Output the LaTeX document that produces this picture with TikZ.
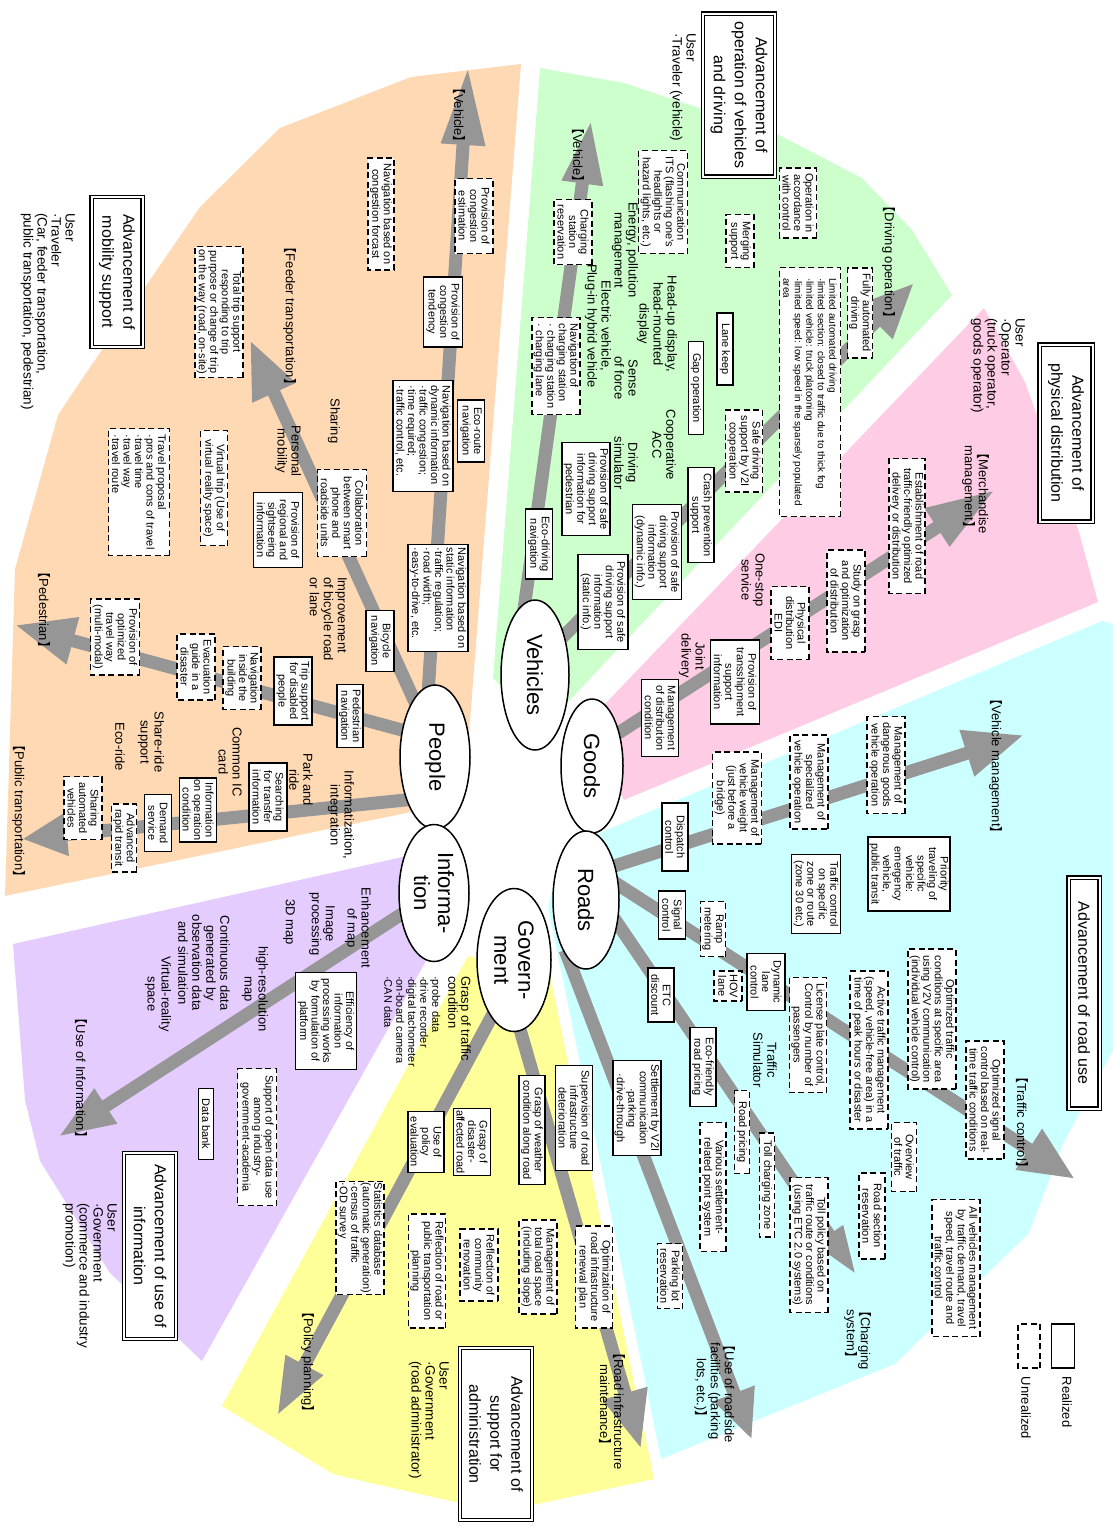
\documentclass[tikz,border=0pt]{standalone}
\usepackage{fontspec}
\setmainfont{Liberation Sans}
\newfontfamily\cjk{Noto Sans CJK SC}
\usetikzlibrary{shapes.geometric,arrows.meta}

\definecolor{mobilitybg}{RGB}{255,217,179}
\definecolor{vehiclebg}{RGB}{204,255,204}
\definecolor{goodsbg}{RGB}{255,204,229}
\definecolor{roadbg}{RGB}{204,255,255}
\definecolor{govbg}{RGB}{255,255,153}
\definecolor{infobg}{RGB}{229,204,255}
\definecolor{flowgray}{RGB}{150,150,150}

\newcommand\lbr{{\cjk 【}}
\newcommand\rbr{{\cjk 】}}
\newcommand\ctrln[1]{\null\hfill#1\hfill\null}
\newcommand\boxfont{\fontsize{11}{11.5}\selectfont}
\newcommand\notefont{\fontsize{13}{14}\selectfont}

\pgfdeclarelayer{sectors}
\pgfdeclarelayer{flows}
\pgfsetlayers{sectors,flows,main}

\begin{document}
\begin{tikzpicture}[
    x=1pt, y=-1pt,
    sz/.style 2 args={minimum width=#1pt, minimum height=#2pt},
    real/.style={rectangle, draw, line width=1.4pt, fill=white, rotate=-90, align=center, inner sep=1.5pt, font=\boxfont},
    plan/.style={real, dash pattern=on 6pt off 3.5pt, line width=1.7pt},
    theme/.style={rectangle, draw, double, double distance=2pt, line width=1.3pt, fill=white, rotate=-90, align=center, font=\fontsize{16}{21}\selectfont},
    hub/.style={ellipse, draw, line width=1.5pt, fill=white, rotate=-90, align=center, inner sep=0pt, font=\fontsize{22}{24}\selectfont},
    note/.style={rotate=-90, align=center, inner sep=0pt, font=\notefont},
    user/.style={note, align=left, anchor=north west, font=\fontsize{13.5}{14}\selectfont},
    flow/.style={draw=flowgray, line width=13pt, -{Triangle[length=58pt,width=42pt]}}
]
\useasboundingbox (0,0) rectangle (1113,1526);

% Central hubs
\node[hub, sz={144}{70}] (people) at (435,757) {People};
\node[hub, sz={150}{68}] (vehicles) at (535,675) {Vehicles};
\node[hub, sz={134}{62}] (goods) at (592,766) {Goods};
\node[hub, sz={138}{66}] (roads) at (586,900) {Roads};
\node[hub, sz={137}{70}] (information) at (434,893) {Informa-\\tion};
\node[hub, sz={143}{74}] (government) at (514,960) {Govern-\\ment};

% Theme titles and users
\node[theme, sz={150}{51}] (mobility) at (117,272) {Advancement of\\mobility support};
\node[theme, sz={163}{72}] (driving) at (739,95) {Advancement of\\operation of vehicles\\and driving};
\node[theme, sz={177}{53}] (distribution) at (1066,433) {Advancement of\\physical distribution};
\node[theme, sz={231}{31}] (roaduse) at (1084,993) {Advancement of road use};
\node[theme, sz={172}{72}] (administration) at (496,1434) {Advancement of\\support for\\administration};
\node[theme, sz={186}{52}] (infouse) at (150,1246) {Advancement of use of\\information};

\node[user] (userMobility) at (75,213) {User\\·Traveler\\(Car, feeder transportation,\\public transportation, pedestrian)};
\node[user] (userDriving) at (696,33) {User\\·Traveler (vehicle)};
\node[user] (userGoods) at (1025,318) {User\\·Operator\\(truck operator,\\goods operator)};
\node[user] (userAdmin) at (449,1361) {User\\·Government\\(road administrator)};
\node[user] (userInfo) at (117,1203) {User\\·Government\\(commerce and industry\\promotion)};

% Mobility support (people)
\node[plan, sz={112}{26}] (navForecast) at (381,214) {Navigation based on\\congestion forcast};
\node[plan, sz={75}{38}] (congEstim) at (474,216) {Provision of\\congestion\\estimation};
\node[real, sz={70}{39}] (congTend) at (443,312) {Provision of\\congestion\\tendency};
\node[plan, sz={131}{48}] (totalTrip) at (219,312) {Total trip support\\responding to trip\\purpose or change of trip\\on the way (road, on-site)};
\node[real, sz={111}{60}, align=left] (navDynamic) at (423,436) {Navigation based on\\dynamic information\\·traffic congestion;\\·time required;\\·traffic control, etc.};
\node[real, sz={62}{27}] (ecoRoute) at (471,431) {Eco-route\\navigation};
\node[plan, sz={87}{49}] (collab) at (342,513) {Collaboration\\between smart\\phone and\\roadside units};
\node[real, sz={75}{49}] (regional) at (278,530) {Provision of\\regional and\\sightseeing\\information};
\node[plan, sz={115}{27}] (virtualTrip) at (214,488) {Virtual trip (Use of\\virtual reality space)};
\node[plan, sz={127}{61}, align=left] (travelProp) at (139,492) {Travel proposal\\·pros and cons of travel\\·travel time\\·travel way\\·travel route};
\node[real, sz={107}{60}, align=left] (navStatic) at (438,598) {Navigation based on\\static information\\·traffic regulation;\\·road width;\\·easy-to-drive, etc.};
\node[real, sz={61}{28}] (bicycleNav) at (380,641) {Bicycle\\navigation};
\node[plan, sz={76}{49}] (optTravel) at (115,637) {Provision of\\optimized\\travel way\\(multi-modal)};
\node[plan, sz={66}{38}] (evacuation) at (196,667) {Evacuation\\guide in a\\disaster};
\node[plan, sz={63}{38}] (navBuilding) at (242,678) {Navigation\\inside the\\building};
\node[real, sz={68}{38}] (tripDisabled) at (293,691) {Trip support\\for disabled\\people};
\node[real, sz={63}{26}] (pedNav) at (350,716) {Pedestrian\\navigation};
\node[real, sz={68}{38}] (transfer) at (268,797) {Searching\\for transfer\\information};
\node[real, sz={62}{37}] (operation) at (198,810) {Information\\on operation\\condition};
\node[real, sz={57}{27}] (demand) at (158,823) {Demand\\service};
\node[plan, sz={68}{25}] (brt) at (124,838) {Advanced\\rapid transit};
\node[plan, sz={63}{38}] (sharedAV) at (83,808) {Sharing\\automated\\vehicles};

\node[note] (lblFeeder) at (290,316) {\lbr Feeder transportation\rbr};
\node[note] (lblPplVehicle) at (459,115) {\lbr Vehicle\rbr};
\node[note] (sharing) at (334,421) {Sharing};
\node[note] (personal) at (288,451) {Personal\\mobility};
\node[note, align=left, anchor=north west] (bicycleRoad) at (347,577) {Improvement\\of bicycle road\\or lane};
\node[note] (lblPedestrian) at (44,610) {\lbr Pedestrian\rbr};
\node[note] (shareRide) at (151,742) {Share-ride\\support};
\node[note] (ecoRide) at (120,747) {Eco-ride};
\node[note] (icCard) at (230,762) {Common IC\\card};
\node[note] (parkRide) at (301,780) {Park and\\ride};
\node[note] (integration) at (341,815) {Informatization,\\integration};
\node[note] (lblPublic) at (19,811) {\lbr Public transportation\rbr};

% Operation of vehicles and driving
\node[plan, sz={65}{38}] (chargeRes) at (573,232) {Charging\\station\\reservation};
\node[plan, sz={103}{49}] (commITS) at (663,202) {Communication\\ITS (flashing one's\\headlights or\\hazard lights, etc.)};
\node[plan, sz={53}{28}] (merging) at (740,241) {Merging\\support};
\node[plan, sz={70}{37}] (opControl) at (798,203) {Operation in\\accordance\\with control};
\node[plan, sz={90}{25}] (fullAuto) at (860,313) {Fully automated\\driving};
\node[plan, sz={249}{61}, align=left, font=\fontsize{10}{11.5}\selectfont] (limitedAuto) at (810,392) {\ctrln{Limited automated driving}\\·limited section: closed to traffic due to thick fog\\·limited vehicle: truck platooning\\·limited speed: low speed in the sparsely populated\\area};
\node[real, sz={72}{16}] (laneKeep) at (725,349) {Lane keep};
\node[real, sz={93}{15}] (gapOp) at (696,388) {Gap operation};
\node[plan, sz={97}{44}, align=left] (navCharge) at (556,366) {\ctrln{Navigation of}\\\ctrln{charging station}\\· charging station\\· charging lane};
\node[real, sz={70}{27}] (ecoDrive) at (539,544) {Eco-driving\\navigation};
\node[real, sz={93}{48}] (safePed) at (586,489) {Provision of safe\\driving support\\information for\\pedestrian};
\node[real, sz={95}{49}] (safeDyn) at (657,552) {Provision of safe\\driving support\\information\\(dynamic info.)};
\node[real, sz={95}{26}] (crash) at (701,515) {Crash prevention\\support};
\node[real, sz={95}{50}] (safeStatic) at (603,602) {Provision of safe\\driving support\\information\\(static info.)};
\node[plan, sz={82}{37}] (safeV2I) at (744,451) {Safe driving\\support by V2I\\cooperation};

\node[note] (lblVehVehicle) at (578,155) {\lbr Vehicle\rbr};
\node[note] (energy) at (625,250) {Energy, pollution\\management};
\node[note] (headUp) at (657,324) {Head-up display,\\head-mounted\\display};
\node[note] (electric) at (598,326) {Electric vehicle,\\Plug-in hybrid vehicle};
\node[note] (senseForce) at (626,378) {Sense\\of force};
\node[note] (drivingSim) at (626,463) {Driving\\simulator};
\node[note] (coopACC) at (664,445) {Cooperative\\ACC};
\node[note] (lblDriving) at (889,262) {\lbr Driving operation\rbr};

% Physical distribution
\node[plan, sz={135}{36}] (establish) at (907,526) {Establishment of road\\traffic-friendly optimized\\delivery or distribution};
\node[plan, sz={102}{38}] (studyDist) at (846,601) {Study on grasp\\and optimization\\of distribution};
\node[plan, sz={73}{38}] (edi) at (790,623) {Physical\\distribution\\EDI};
\node[real, sz={84}{49}] (transship) at (735,682) {Provision of\\transshipment\\support\\information};
\node[real, sz={77}{37}] (distCond) at (660,718) {Management\\of distribution\\condition};

\node[note] (lblMerch) at (976,490) {\lbr Merchandise\\management\rbr};
\node[note] (oneStop) at (753,580) {One-stop\\service};
\node[note] (jointDelivery) at (692,656) {Joint\\delivery};

% Road use
\node[plan, sz={92}{49}] (weightMgmt) at (737,798) {Management of\\vehicle weight\\(just before a\\bridge)};
\node[plan, sz={94}{38}] (specialMgmt) at (809,782) {Management of\\specialized\\vehicle operation};
\node[plan, sz={97}{38}] (dangerMgmt) at (886,765) {Management of\\dangerous goods\\vehicle operation};
\node[real, sz={68}{26}] (dispatch) at (675,837) {Dispatch\\control};
\node[real, sz={74}{82}] (priority) at (909,874) {Priority\\traveling of\\specific\\vehicle:\\emergency\\vehicle,\\public transit};
\node[real, sz={79}{49}] (zoneCtrl) at (816,894) {Traffic control\\on specific\\zone or route\\(zone 30 etc.)};
\node[real, sz={48}{27}] (signal) at (672,915) {Signal\\control};
\node[plan, sz={55}{25}] (ramp) at (713,929) {Ramp\\metering};
\node[plan, sz={30}{28}] (hov) at (728,986) {HOV\\lane};
\node[real, sz={57}{38}] (dynLane) at (766,982) {Dynamic\\lane\\control};
\node[real, sz={54}{26}] (etcDiscount) at (661,995) {ETC\\discount};
\node[plan, sz={115}{37}] (plateCtrl) at (808,1035) {License plate control,\\Control by number of\\passengers};
\node[plan, sz={140}{47}] (optV2V) at (932,1019) {Optimized traffic\\conditions at specific area\\using V2V communication\\(individual vehicle control)};
\node[plan, sz={158}{38}] (activeTM) at (869,1050) {Active traffic management\\(speed, vehicle-free area) in a\\time of peak hours or disaster};
\node[plan, sz={118}{38}] (optSignal) at (985,1100) {Optimized signal\\control based on real-\\time traffic conditions};
\node[real, sz={79}{26}] (ecoPricing) at (703,1067) {Eco-friendly\\road pricing};
\node[real, sz={95}{48}] (settleV2I) at (637,1108) {Settlement by V2I\\communication\\·parking\\·drive-through};
\node[plan, sz={83}{15}] (roadPricing) at (742,1132) {Road pricing};
\node[plan, sz={69}{25}] (overview) at (904,1157) {Overview\\of traffic};
\node[plan, sz={104}{15}] (tollZone) at (767,1185) {Toll charging zone};
\node[plan, sz={129}{26}] (pointSys) at (713,1187) {Various settlement-\\related point system};
\node[plan, sz={135}{38}] (tollPolicy) at (809,1245) {Toll policy based on\\traffic route or conditions\\(using ETC 2.0 systems)};
\node[plan, sz={86}{26}] (roadSection) at (872,1216) {Road section\\reservation};
\node[plan, sz={137}{48}] (allVeh) at (956,1268) {All vehicles management\\by traffic demand, travel\\speed, travel route and\\traffic control};
\node[plan, sz={65}{25}] (parkingRes) at (670,1276) {Parking lot\\reservation};

\node[note] (lblVehMgmt) at (996,766) {\lbr Vehicle management\rbr};
\node[note] (lblTraffic) at (1022,1122) {\lbr Traffic control\rbr};
\node[note] (trafficSim) at (765,1060) {Traffic\\Simulator};
\node[note] (lblCharging) at (858,1337) {\lbr Charging\\system\rbr};
\node[note] (lblRoadside) at (715,1391) {\lbr Use of roadside\\facilities (parking\\lots, etc.)\rbr};

% Support for administration
\node[real, sz={61}{36}] (policyEval) at (426,1142) {Use of\\policy\\evaluation};
\node[real, sz={67}{37}] (disasterRoad) at (472,1142) {Grasp of\\disaster-\\affected road};
\node[real, sz={109}{26}] (weather) at (532,1130) {Grasp of weather\\condition along road};
\node[real, sz={105}{37}] (deterioration) at (574,1118) {Supervision of road\\infrastructure\\deterioration};
\node[plan, sz={110}{48}, align=left] (statsDB) at (360,1238) {Statistics database\\(automatic generation)\\·census of traffic\\·OD survey};
\node[plan, sz={114}{37}] (reflectPT) at (427,1271) {Reflection of road or\\public transportation\\planning};
\node[plan, sz={72}{38}] (reflectComm) at (479,1265) {Reflection of\\community\\renovation};
\node[plan, sz={94}{38}] (roadSpace) at (538,1267) {Management of\\total road space\\(including slope)};
\node[plan, sz={102}{37}] (renewal) at (594,1277) {Optimization of\\road infrastructure\\renewal plan};

\node[note, align=left, anchor=north west, font=\fontsize{13}{12}\selectfont] (graspTraffic) at (471,976) {Grasp of traffic\\condition\\[4pt]{\boxfont ·probe data}\\{\boxfont ·drive recorder}\\{\boxfont ·digital tachometer}\\{\boxfont ·on-board camera}\\{\boxfont ·CAN data}};
\node[note] (lblInfra) at (612,1408) {\lbr Road infrastructure\\maintenance\rbr};
\node[note] (lblPolicy) at (308,1362) {\lbr Policy planning\rbr};

% Use of information
\node[real, sz={97}{61}] (platform) at (326,1021) {Efficiency of\\information\\processing works\\by formulation of\\platform};
\node[real, sz={71}{15}] (dataBank) at (206,1124) {Data bank};
\node[plan, sz={137}{39}] (openData) at (257,1137) {Support of open data use\\among industry-\\government-academia};

\node[note] (enhanceMap) at (358,928) {Enhancement\\of map};
\node[note] (imageProc) at (322,924) {Image\\processing};
\node[note] (map3d) at (289,922) {3D map};
\node[note] (hiResMap) at (255,989) {high-resolution\\map};
\node[note] (continuous) at (204,963) {Continuous data\\generated by\\observation data\\and simulation};
\node[note] (virtualSpace) at (158,994) {Virtual-reality\\space};
\node[note] (lblInfo) at (81,1078) {\lbr Use of Information\rbr};

% Legend
\node[real, sz={44}{23}] (legendReal) at (1063,1346) {};
\node[plan, sz={44}{22}] (legendPlan) at (1029,1346) {};
\node[note] (txtReal) at (1067,1402) {Realized};
\node[note] (txtPlan) at (1026,1408) {Unrealized};

% Arrow tips
\coordinate (tipPplVehicle) at (468,67);
\coordinate (tipFeeder) at (250,340);
\coordinate (tipPedestrian) at (15,625);
\coordinate (tipPublic) at (22,839);
\coordinate (tipVehVehicle) at (591,120);
\coordinate (tipDriving) at (914,283);
\coordinate (tipMerch) at (995,490);
\coordinate (tipVehMgmt) at (1024,735);
\coordinate (tipTraffic) at (1075,1179);
\coordinate (tipCharging) at (857,1276);
\coordinate (tipRoadside) at (752,1440);
\coordinate (tipInfra) at (641,1449);
\coordinate (tipPolicy) at (277,1416);
\coordinate (tipInfo) at (58,1137);

% Gray development arrows
\begin{pgfonlayer}{flows}
\draw[flow, -{Triangle[length=78pt,width=41pt]}] ([xshift=-11pt]people.center) -- (tipPplVehicle);
\draw[flow, -{Triangle[length=58pt,width=44pt]}] ([xshift=5pt]people.center) -- (tipFeeder);
\draw[flow, -{Triangle[length=60pt,width=45pt]}] ([yshift=18pt]people.center) -- (tipPedestrian);
\draw[flow, -{Triangle[length=45pt,width=40pt]}] ([yshift=-40pt]people.center) -- (tipPublic);
\draw[flow, -{Triangle[length=64pt,width=38pt]}] ([xshift=-20pt]vehicles.center) -- (tipVehVehicle);
\draw[flow, -{Triangle[length=55pt,width=45pt]}] ([yshift=10pt]vehicles.center) -- (tipDriving);
\draw[flow, -{Triangle[length=69pt,width=42pt]}] ([yshift=16pt]goods.center) -- (tipMerch);
\draw[flow, -{Triangle[length=60pt,width=45pt]}] ([yshift=25pt]roads.center) -- (tipVehMgmt);
\draw[flow, -{Triangle[length=55pt,width=45pt]}] ([yshift=36pt]roads.center) -- (tipTraffic);
\draw[flow, -{Triangle[length=50pt,width=30pt]}] ([yshift=23pt]roads.center) -- (tipCharging);
\draw[flow, -{Triangle[length=50pt,width=40pt]}] ([xshift=-21pt,yshift=-50pt]roads.center) -- (tipRoadside);
\draw[flow, -{Triangle[length=58pt,width=43pt]}] ([xshift=-14pt]government.center) -- (tipInfra);
\draw[flow, -{Triangle[length=58pt,width=39pt]}] ([xshift=8pt]government.center) -- (tipPolicy);
\draw[flow, -{Triangle[length=57pt,width=38pt]}] (information.center) -- (tipInfo);
\end{pgfonlayer}

% Coloured fields behind each theme
\begin{pgfonlayer}{sectors}
\fill[mobilitybg] (521,64) -- (411,77) -- (280,128) -- (200,207) -- (80,382) -- (58,415) -- (15,569) -- (5,896) -- (430,808) -- (467,760) -- cycle;
\fill[vehiclebg] (540,68) -- (624,83) -- (775,133) -- (862,178) -- (912,230) -- (952,295) -- (568,702) -- (535,722) -- (493,678) -- cycle;
\fill[goodsbg] (984,308) -- (1025,382) -- (1079,532) -- (1098,602) -- (624,800) -- (600,760) -- (604,705) -- cycle;
\fill[roadbg] (1102,621) -- (1113,624) -- (1113,1050) -- (1062,1146) -- (1029,1233) -- (895,1364) -- (742,1426) -- (661,1459) -- (548,907) -- (560,860) -- (604,831) -- cycle;
\fill[govbg] (468,956) -- (550,975) -- (654,1479) -- (500,1512) -- (371,1483) -- (333,1474) -- (222,1406) -- cycle;
\fill[infobg] (13,944) -- (425,852) -- (440,900) -- (426,961) -- (202,1361) -- (110,1273) -- (40,1161) -- (25,1100) -- cycle;
\end{pgfonlayer}

\end{tikzpicture}
\end{document}
